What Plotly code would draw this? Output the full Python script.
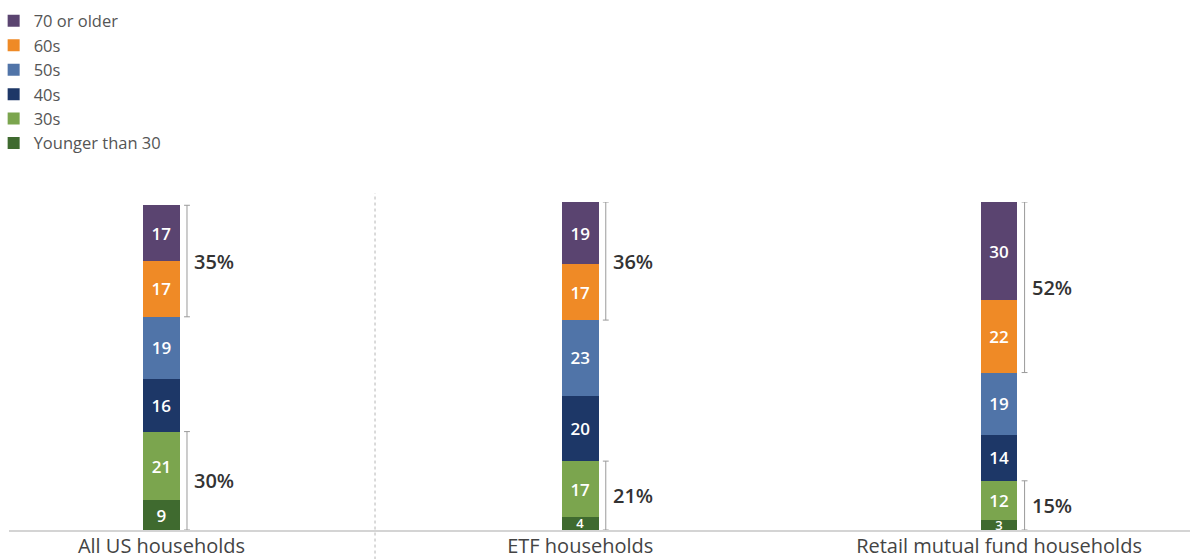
import plotly.graph_objects as go

categories = ["All US households", "ETF households", "Retail mutual fund households"]
age_groups = ["Younger than 30", "30s", "40s", "50s", "60s", "70 or older"]
values = {
    "Younger than 30": [9, 4, 3],
    "30s": [21, 17, 12],
    "40s": [16, 20, 14],
    "50s": [19, 23, 19],
    "60s": [17, 17, 22],
    "70 or older": [17, 19, 30],
}
older_share = [35, 36, 52]      # 60s + 70 or older
younger_share = [30, 21, 15]    # younger than 30 + 30s

colors = {
    "Younger than 30": "#3f6a2f",
    "30s": "#7ba54e",
    "40s": "#1d3767",
    "50s": "#5074a8",
    "60s": "#ef8a26",
    "70 or older": "#5a4470",
}

FONT = "Open Sans"
BAR_W = 0.088
fig = go.Figure()
for k, g in enumerate(age_groups):
    sizes = [17 if v >= 6 else 13 for v in values[g]]
    fig.add_trace(go.Bar(
        x=categories, y=values[g], name=g, width=BAR_W,
        marker=dict(color=colors[g], line=dict(width=0)),
        text=[str(v) for v in values[g]], textposition="inside",
        insidetextanchor="middle", textangle=0, constraintext="none",
        textfont=dict(color="white", size=sizes, family=FONT, weight=600),
        legendrank=1000 - k,
    ))

shapes = []
annotations = []
br_off = BAR_W / 2 + 0.017
cap = 0.007
for i, c in enumerate(categories):
    cum = [0]
    for g in age_groups:
        cum.append(cum[-1] + values[g][i])
    total = cum[-1]
    bx = i + br_off
    for (y0, y1, lab) in [(0, cum[2], younger_share[i]), (cum[4], total, older_share[i])]:
        shapes.append(dict(type="line", xref="x", yref="y", x0=bx, x1=bx, y0=y0, y1=y1,
                           line=dict(color="#9a9a9a", width=1)))
        for yy in (y0, y1):
            shapes.append(dict(type="line", xref="x", yref="y", x0=bx - cap, x1=bx + cap,
                               y0=yy, y1=yy, line=dict(color="#9a9a9a", width=1)))
        annotations.append(dict(x=bx, y=(y0 + y1) / 2, xref="x", yref="y",
                                text=f"{lab}%", showarrow=False, xanchor="left",
                                xshift=5, font=dict(size=20, color="#333333", family=FONT, weight=600)))

# dotted separator
shapes.append(dict(type="line", xref="x", yref="paper", x0=0.51, x1=0.51, y0=-0.09, y1=1.027,
                   line=dict(color="#b5b5b5", width=1, dash="dot")))

fig.update_layout(
    width=1199, height=559,
    margin=dict(l=9, r=9, t=202, b=29, autoexpand=False),
    barmode="stack",
    plot_bgcolor="white", paper_bgcolor="white",
    font=dict(family=FONT, color="#444444"),
    showlegend=True,
    legend=dict(x=-0.013, y=1.605, xanchor="left", yanchor="top",
                traceorder="normal",
                font=dict(size=16.5, color="#555555", family=FONT),
                bgcolor="rgba(0,0,0,0)"),
    xaxis=dict(range=[-0.364, 2.456], showgrid=False, zeroline=False, automargin=False,
               showline=True, linecolor="#d4d4d4", linewidth=1.5, ticks="",
               ticklabelstandoff=-3,
               tickfont=dict(size=20, color="#444444", family=FONT)),
    yaxis=dict(range=[0, 100], visible=False, automargin=False),
    shapes=shapes, annotations=annotations,
)

fig.write_html("out.html")
